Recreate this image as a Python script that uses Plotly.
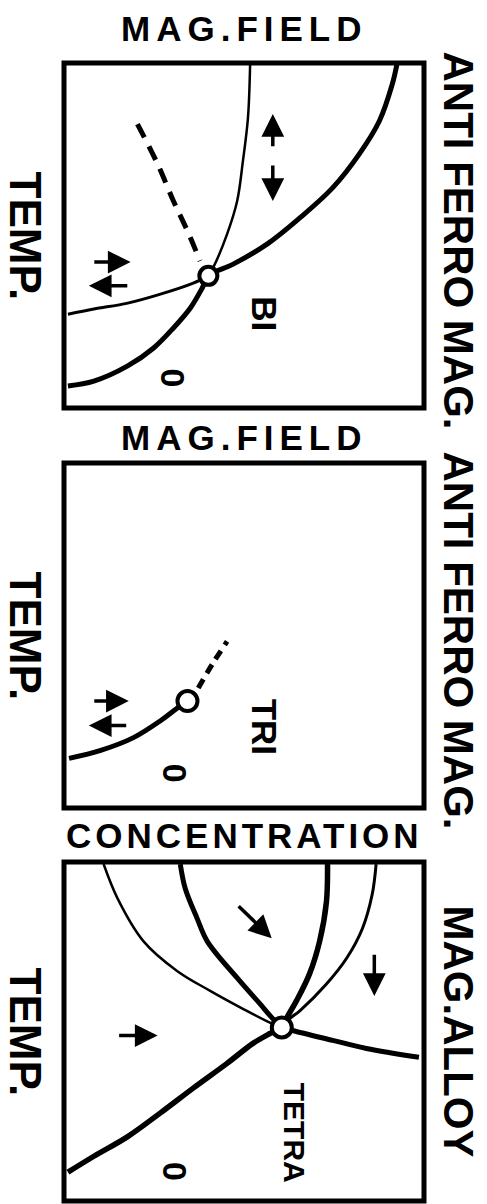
import plotly.graph_objects as go

W, H = 487, 1204

# ---- panel 1: magnetic field vs temperature, bicritical point ----
p1_main_x = [1.1, 8.3, 17.7, 24.9, 30.4, 35.1, 38.4, 40.1, 47.0, 56.4, 65.5, 74.6, 82.0, 87.6, 91.2, 92.5]
p1_main_y = [6.4, 7.8, 12.2, 17.4, 23.2, 29.0, 34.8, 38.3, 41.7, 47.5, 55.1, 63.8, 73.6, 83.2, 93.9, 99.7]
p1_left_x = [1.1, 8.3, 17.7, 26.8, 35.9, 40.1]
p1_left_y = [27.2, 28.7, 30.4, 33.0, 36.2, 38.3]
p1_up_x = [40.1, 41.4, 45.3, 48.1, 49.7, 51.1, 51.7]
p1_up_y = [38.3, 40.6, 50.4, 60.0, 71.6, 84.1, 99.7]
p1_dash_x = [20.4, 26.0, 30.4, 34.3, 37.8]
p1_dash_y = [82.3, 70.7, 60.0, 51.3, 42.6]
p1_point = (40.1, 38.3)

# ---- panel 2: tricritical point ----
p2_main_x = [1.4, 10.2, 19.3, 26.8, 31.5, 34.3]
p2_main_y = [14.4, 16.7, 20.4, 25.3, 29.0, 31.0]
p2_dash_x = [37.3, 41.2, 45.3]
p2_dash_y = [34.8, 41.7, 48.3]
p2_point = (34.3, 31.0)

# ---- panel 3: concentration vs temperature, tetracritical point ----
p3_point = (60.5, 51.2)
p3_low_x = [1.1, 8.3, 17.7, 26.8, 35.9, 45.3, 52.5, 57.2, 60.5]
p3_low_y = [8.5, 13.2, 19.0, 26.0, 33.3, 40.6, 46.5, 49.4, 51.2]
p3_right_x = [60.5, 63.5, 74.6, 84.0, 98.6]
p3_right_y = [51.2, 50.3, 47.4, 45.0, 42.4]
p3_arc1_x = [11.0, 14.9, 22.1, 31.5, 40.6, 49.7, 57.2, 60.5]
p3_arc1_y = [99.4, 89.2, 76.6, 67.8, 62.0, 56.7, 52.6, 51.2]
p3_arc2_x = [32.3, 33.7, 37.0, 39.8, 48.1, 54.4, 58.0, 60.5]
p3_arc2_y = [99.4, 92.1, 83.3, 76.6, 65.8, 58.2, 53.8, 51.2]
p3_arc3_x = [73.2, 72.9, 71.0, 68.2, 64.6, 61.9, 60.5]
p3_arc3_y = [99.4, 88.3, 76.6, 67.0, 59.1, 54.1, 51.2]
p3_arc4_x = [86.7, 85.6, 82.9, 78.5, 72.9, 65.5, 62.7, 60.5]
p3_arc4_y = [99.4, 90.4, 80.4, 71.6, 64.0, 56.1, 53.8, 51.2]

# arrows: (tail_x, tail_y, head_x, head_y)
p1_arrows = [(58.0, 75.4, 58.0, 85.2), (58.0, 70.7, 58.0, 60.0),
             (8.0, 42.3, 18.5, 42.3), (18.0, 35.4, 6.9, 35.4)]
p2_arrows = [(8.0, 31.0, 18.0, 31.0), (17.7, 23.9, 6.9, 23.9)]
p3_arrows = [(48.1, 87.4, 57.7, 77.5), (86.2, 73.1, 86.2, 60.5), (14.9, 48.8, 26.0, 48.8)]

# labels
titles = ["MAG.FIELD", "MAG.FIELD", "CONCENTRATION"]
left_labels = ["TEMP.", "TEMP.", "TEMP."]
right_labels = ["ANTI FERRO MAG.", "ANTI FERRO MAG.", "MAG.ALLOY"]
phase_labels = [("BI", 55.8, 27.2), ("TRI", 55.8, 23.6), ("TETRA", 64.1, 20.2)]
zero_labels = [("0", 30.4, 8.7), ("0", 30.7, 10.1), ("0", 30.9, 8.8)]

# panel boxes in pixels (left, right, top, bottom)
boxes = [(64, 424, 63, 408), (64, 424, 463, 808), (64, 424, 862, 1201)]
title_y = [28, 437, 835]
title_spacing = [6, 6, 4]

FONT = "Liberation Sans"
fig = go.Figure()


def py(p):
    return 1 - p / H


def line(i, xs, ys, width, dash=None):
    ax = "" if i == 0 else str(i + 1)
    fig.add_trace(go.Scatter(
        x=xs, y=ys, mode="lines", xaxis="x" + ax, yaxis="y" + ax,
        line=dict(color="black", width=width, shape="spline", smoothing=1.0, dash=dash),
        hoverinfo="skip", showlegend=False))


def point(i, pt, size):
    ax = "" if i == 0 else str(i + 1)
    fig.add_trace(go.Scatter(
        x=[pt[0]], y=[pt[1]], mode="markers", xaxis="x" + ax, yaxis="y" + ax,
        marker=dict(size=size, color="white", line=dict(color="black", width=4)),
        hoverinfo="skip", showlegend=False))


def arrows(i, lst):
    ax = "" if i == 0 else str(i + 1)
    for tx, ty, hx, hy in lst:
        fig.add_annotation(x=hx, y=hy, ax=tx, ay=ty, xref="x" + ax, yref="y" + ax,
                           axref="x" + ax, ayref="y" + ax, text="", showarrow=True,
                           arrowhead=2, arrowsize=1.3, arrowwidth=3.5, arrowcolor="black",
                           standoff=0, startstandoff=0)


# panel 1
line(0, p1_left_x, p1_left_y, 3)
line(0, p1_up_x, p1_up_y, 2.5)
line(0, p1_main_x, p1_main_y, 5)
line(0, p1_dash_x, p1_dash_y, 5, dash="15px,10px")
point(0, p1_point, 18)
arrows(0, p1_arrows)

# panel 2
line(1, p2_main_x, p2_main_y, 5)
line(1, p2_dash_x, p2_dash_y, 5, dash="10px,7px")
point(1, p2_point, 20)
arrows(1, p2_arrows)

# panel 3
line(2, p3_arc1_x, p3_arc1_y, 2.5)
line(2, p3_arc4_x, p3_arc4_y, 3)
line(2, p3_arc2_x, p3_arc2_y, 5)
line(2, p3_arc3_x, p3_arc3_y, 5.5)
line(2, p3_low_x, p3_low_y, 5.5)
line(2, p3_right_x, p3_right_y, 5)
point(2, p3_point, 20)
arrows(2, p3_arrows)

layout_axes = {}
for i, (l, r, t, b) in enumerate(boxes):
    sfx = "" if i == 0 else str(i + 1)
    layout_axes["xaxis" + sfx] = dict(domain=[l / W, r / W], range=[0, 100], visible=False,
                                      anchor="y" + sfx, fixedrange=True)
    layout_axes["yaxis" + sfx] = dict(domain=[py(b), py(t)], range=[0, 100], visible=False,
                                      anchor="x" + sfx, fixedrange=True)
    fig.add_shape(type="rect", xref="x" + sfx + " domain" if sfx else "x domain",
                  yref="y" + sfx + " domain" if sfx else "y domain",
                  x0=0, x1=1, y0=0, y1=1, line=dict(color="black", width=5))
    # top title
    fig.add_annotation(x=(l + r) / 2 / W, y=py(title_y[i]), xref="paper", yref="paper",
                       text='<span style="letter-spacing:%dpx">%s</span>' % (title_spacing[i], titles[i]),
                       showarrow=False, font=dict(family=FONT, size=35, color="black", weight="bold"),
                       xanchor="center", yanchor="middle")
    # left and right rotated labels
    fig.add_annotation(x=25 / W, y=py((t + b) / 2), xref="paper", yref="paper",
                       text=left_labels[i], textangle=90, showarrow=False,
                       font=dict(family=FONT, size=44, color="black", weight="bold"),
                       xanchor="center", yanchor="middle")
    fig.add_annotation(x=458 / W, y=py((t + b) / 2 + (5 if i < 2 else 0)), xref="paper", yref="paper",
                       text=right_labels[i], textangle=90, showarrow=False,
                       font=dict(family=FONT, size=42, color="black", weight="bold"),
                       xanchor="center", yanchor="middle")
    ax = "x" + sfx
    ay = "y" + sfx
    txt, lx, ly = phase_labels[i]
    fig.add_annotation(x=lx, y=ly, xref=ax, yref=ay, text=txt, textangle=90, showarrow=False,
                       font=dict(family=FONT, size=35 if i < 2 else 30, color="black", weight="bold"))
    txt, lx, ly = zero_labels[i]
    fig.add_annotation(x=lx, y=ly, xref=ax, yref=ay, text=txt, textangle=90, showarrow=False,
                       font=dict(family=FONT, size=34, color="black", weight="bold"))

fig.update_layout(width=W, height=H, margin=dict(l=0, r=0, t=0, b=0),
                  paper_bgcolor="white", plot_bgcolor="white", **layout_axes)

fig.write_html("out.html", config={"displayModeBar": False})
